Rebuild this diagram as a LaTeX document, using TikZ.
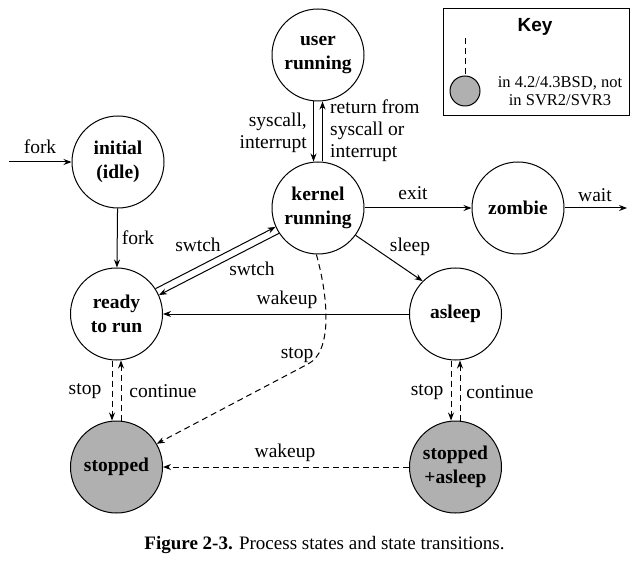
\documentclass[tikz,border=0pt]{standalone}
\usepackage{fontspec}
\setmainfont{Liberation Serif}
\newfontfamily\keyfont{Liberation Sans}
\usetikzlibrary{arrows.meta}
\begin{document}
\begin{tikzpicture}[x=1pt,y=-1pt,
  state/.style={circle,draw,line width=1pt,minimum size=92pt,inner sep=0pt,align=center,
    font=\fontsize{19.5}{24}\selectfont\bfseries},
  stopst/.style={state,fill=gray!62},
  lbl/.style={font=\fontsize{19.5}{22}\selectfont,inner sep=0pt},
  arr/.style={-{Stealth[length=8pt,width=6pt]},line width=1pt},
  darr/.style={arr,dash pattern=on 6pt off 4pt}]
\useasboundingbox (0,0) rectangle (637,561);
% states
\node[state] (user) at (318,55) {user\\running};
\node[state] (init) at (118,162) {initial\\(idle)};
\node[state] (kern) at (318,208) {kernel\\running};
\node[state] (zomb) at (518,208) {zombie};
\node[state] (ready) at (116.5,314) {ready\\to run};
\node[state] (asleep) at (455.5,314) {asleep};
\node[stopst] (stopped) at (116.5,467) {stopped};
\node[stopst] (stsl) at (455.5,467) {stopped\\+asleep};
% free ends
\coordinate (forkin) at (9,162);
\coordinate (waitend) at (627,208);
% connectors
\draw[arr] (forkin) -- (init.west);
\draw[arr] (init) -- (ready);
\draw[arr] ([xshift=-4.5pt]user.south) -- ([xshift=-4.5pt]kern.north);
\draw[arr] ([xshift=4.5pt]kern.north) -- ([xshift=4.5pt]user.south);
\draw[arr] (ready.33) -- (kern.204);
\draw[arr] (kern.213) -- (ready.24);
\draw[arr] (kern.east) -- (zomb.west);
\draw[arr] (zomb.east) -- (waitend);
\draw[arr] (kern.-36) -- (asleep.135);
\draw[arr] (asleep.west) -- (ready.east);
\draw[darr] ([xshift=-4.5pt]ready.south) -- ([xshift=-4.5pt]stopped.north);
\draw[darr] ([xshift=4.5pt]stopped.north) -- ([xshift=4.5pt]ready.south);
\draw[darr] ([xshift=-4.5pt]asleep.south) -- ([xshift=-4.5pt]stsl.north);
\draw[darr] ([xshift=4.5pt]stsl.north) -- ([xshift=4.5pt]asleep.south);
\draw[darr] (kern.-92) .. controls (329,300) and (332,352) .. (308,364) -- (stopped.30);
\draw[darr] (stsl.west) -- (stopped.east);
% labels
\node[lbl] (lforkin) at (40,147) {fork};
\node[lbl] (lfork) at (138,238) {fork};
\node[lbl,align=right,anchor=east] (lsys) at (307,133) {syscall,\\interrupt};
\node[lbl,align=left,anchor=west] (lret) at (330,131) {return from\\syscall or\\interrupt};
\node[lbl] (lsw1) at (198,245) {swtch};
\node[lbl] (lsw2) at (252,269) {swtch};
\node[lbl] (lexit) at (413,193) {exit};
\node[lbl] (lwait) at (595,195) {wait};
\node[lbl] (lsleep) at (410,247) {sleep};
\node[lbl] (lwake1) at (287,300) {wakeup};
\node[lbl] (lstopk) at (297,355) {stop};
\node[lbl] (lstop1) at (85,391) {stop};
\node[lbl] (lcont1) at (163,391) {continue};
\node[lbl] (lstop2) at (427,392) {stop};
\node[lbl] (lcont2) at (500,392) {continue};
\node[lbl] (lwake2) at (285,453) {wakeup};
% key
\node[draw,line width=1pt,minimum width=186pt,minimum height=107pt,inner sep=0pt] (keybox) at (536,62.5) {};
\node[font=\keyfont\fontsize{19}{20}\selectfont\bfseries,inner sep=0pt] (keytitle) at (535,27) {Key};
\node[circle,draw,line width=1pt,fill=gray!62,minimum size=30pt,inner sep=0pt] (keyc) at (465,91) {};
\coordinate (keytop) at (465,38);
\draw[line width=1pt,dash pattern=on 6pt off 4pt] (keytop) -- (keyc.north);
\node[font=\fontsize{16.5}{18.5}\selectfont,align=center,inner sep=0pt] (keytext) at (560,91) {in 4.2/4.3BSD, not\\in SVR2/SVR3};
% caption
\node[font=\fontsize{19}{22}\selectfont,inner sep=0pt] (caption) at (324.5,545) {\textbf{Figure 2-3.} Process states and state transitions.};
\end{tikzpicture}
\end{document}
